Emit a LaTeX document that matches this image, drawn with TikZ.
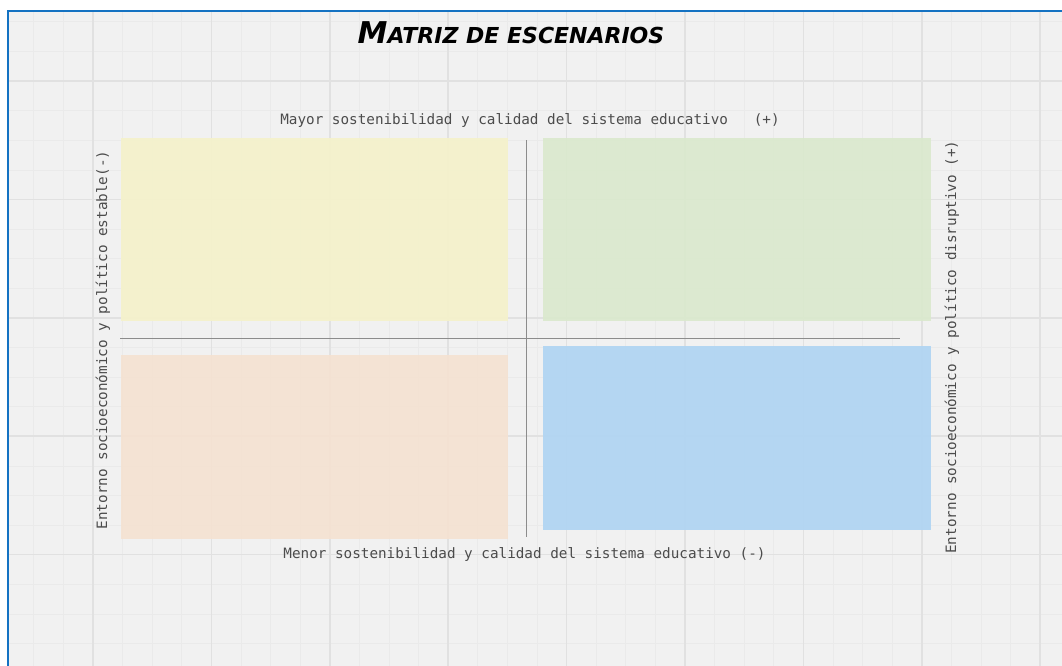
\documentclass[tikz,border=0pt]{standalone}
\usepackage{fontspec}
\setmonofont{DejaVu Sans Mono}
\newfontfamily\titlefont{DejaVu Sans}
\usepackage{tikz}

\definecolor{paper}{HTML}{F1F1F1}
\definecolor{gridminor}{HTML}{EAEAEA}
\definecolor{gridmajor}{HTML}{E1E1E1}
\definecolor{framebl}{HTML}{1472C2}
\definecolor{qyellow}{HTML}{F5F2CA}
\definecolor{qgreen}{HTML}{DAE9CD}
\definecolor{qpeach}{HTML}{F5E2D1}
\definecolor{qblue}{HTML}{AED4F3}
\definecolor{txtgray}{HTML}{4C4C4C}

\begin{document}
\begin{tikzpicture}[x=1pt, y=-1pt]
    \tikzstyle{quad}=[inner sep=0pt, fill opacity=0.9]
    \tikzstyle{axislabel}=[text=txtgray, font=\fontsize{14.3}{16}\selectfont\ttfamily, inner sep=1pt]
    \tikzstyle{axis}=[draw=gray!90, line width=0.9pt]

    \useasboundingbox (0,0) rectangle (1062,666);

    % Paper and grid
    \fill[paper] (8,11) rectangle (1062,666);
    \begin{scope}
    \clip (8,11) rectangle (1062,666);
    \foreach \i in {0,...,35}
        \draw[gridminor, line width=1pt] ({4.2+29.6*\i},11) -- ({4.2+29.6*\i},666);
    \foreach \i in {0,...,22}
        \draw[gridminor, line width=1pt] (8,{22+29.6*\i}) -- (1062,{22+29.6*\i});
    \foreach \i in {0,...,8}
        \draw[gridmajor, line width=1.6pt] ({93+118.4*\i},11) -- ({93+118.4*\i},666);
    \foreach \i in {0,...,5}
        \draw[gridmajor, line width=1.6pt] (8,{81+118.4*\i}) -- (1062,{81+118.4*\i});
    \end{scope}
    \draw[framebl, line width=2pt] (8,666) -- (8,11) -- (1062,11);

    % Title
    \node (title) at (511,33) {\titlefont\bfseries\slshape
        {\fontsize{30}{30}\selectfont M}{\fontsize{22}{22}\selectfont ATRIZ DE ESCENARIOS}};

    % Quadrants
    \node[quad, fill=qyellow, minimum width=387pt, minimum height=183pt] (stable_up) at (314.5,229.5) {};
    \node[quad, fill=qgreen, minimum width=388pt, minimum height=183pt] (disrupt_up) at (737,229.5) {};
    \node[quad, fill=qpeach, minimum width=387pt, minimum height=184pt] (stable_down) at (314.5,447) {};
    \node[quad, fill=qblue, minimum width=388pt, minimum height=184pt] (disrupt_down) at (737,438) {};

    % Axes
    \coordinate (hleft) at (120,338);
    \coordinate (hright) at (900,338);
    \coordinate (vtop) at (526,140);
    \coordinate (vbottom) at (526,537);
    \draw[axis] (hleft) -- (hright);
    \draw[axis] (vtop) -- (vbottom);

    % Labels
    \node[axislabel] (top) at (530,121) {Mayor sostenibilidad y calidad del sistema educativo\ \ \ (+)};
    \node[axislabel] (bottom) at (524.5,555) {Menor sostenibilidad y calidad del sistema educativo (-)};
    \node[axislabel, rotate=90] (left) at (103,340) {Entorno socioeconómico y político estable(-)};
    \node[axislabel, rotate=90] (right) at (952,347) {Entorno socioeconómico y político disruptivo (+)};
\end{tikzpicture}
\end{document}
